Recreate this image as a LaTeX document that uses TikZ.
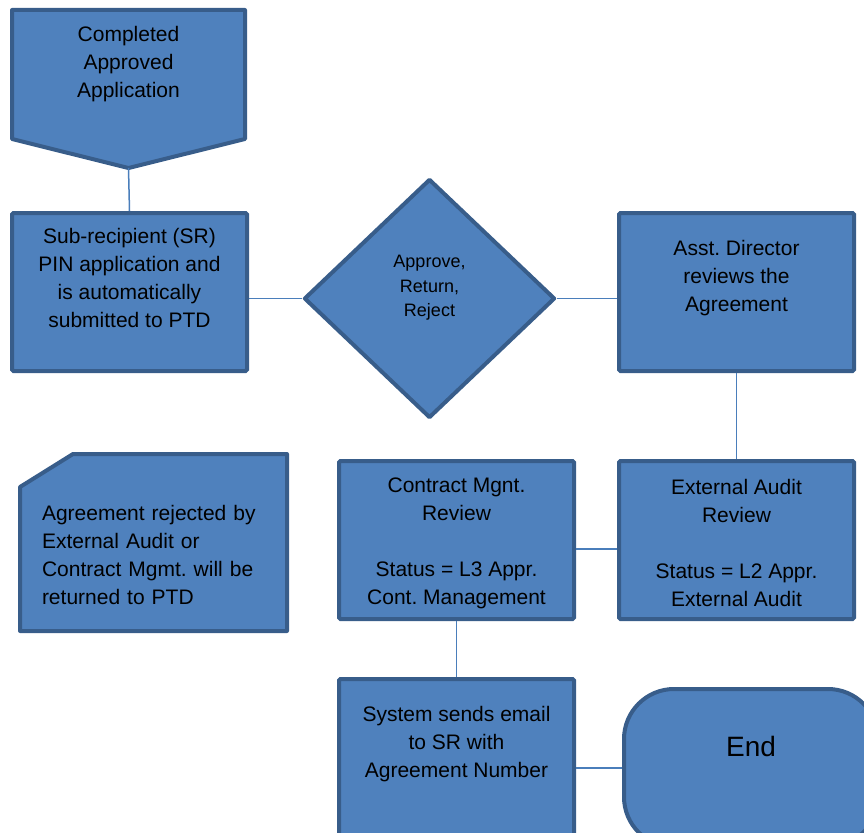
\documentclass[tikz,border=0pt]{standalone}
\usepackage{fontspec}
\setmainfont{Liberation Sans}
\usetikzlibrary{shapes.geometric}
\definecolor{boxfill}{HTML}{4F81BD}
\definecolor{boxline}{HTML}{385D8A}
\definecolor{linkline}{HTML}{4A7EBB}
\frenchspacing

\begin{document}
\begin{tikzpicture}[x=1pt,y=-1pt,font=\fontsize{21}{28}\selectfont,
 box/.style={draw=boxline,fill=boxfill,line width=4pt,rounded corners=1.5pt,align=center,minimum width=235pt,minimum height=158pt,inner sep=0pt},
 decision/.style={diamond,draw=boxline,fill=boxfill,line width=4pt,line join=round,align=center,minimum width=251pt,minimum height=239pt,inner sep=0pt,font=\fontsize{18}{24.5}\selectfont},
 term/.style={draw=boxline,fill=boxfill,line width=4pt,rounded corners=50pt,align=center,minimum width=254pt,minimum height=158pt,inner sep=0pt,font=\fontsize{28}{37}\selectfont},
 shapebox/.style={draw=boxline,fill=boxfill,line width=4pt,line join=round},
 link/.style={draw=linkline,line width=1.5pt}]
\useasboundingbox (0,0) rectangle (864,832);
\clip (0,0) rectangle (864,832);
\fill[white] (0,0) rectangle (864,832);
% start: off-page connector
\draw[shapebox] (12,10) -- (245,10) -- (245,139) -- (128.5,168) -- (12,139) -- cycle;
\coordinate (start-tip) at (128.5,168);
\node[align=center] (start) at (128.5,64) {Completed\\Approved\\Application};
% first row
\node[box] (sr) at (129.5,292) {Sub-recipient (SR)\\PIN application and\\is automatically\\submitted to PTD\\\mbox{}};
\node[decision] (decide) at (429.5,298.5) {Approve,\\Return,\\Reject\\\mbox{}};
\node[box] (asst) at (736.5,292) {Asst. Director\\reviews the\\Agreement\\[4pt]\mbox{}};
% reviews
\node[box] (cm) at (456.5,540) {\rule{0pt}{4pt}\\[-11pt]Contract Mgnt.\\Review\\\mbox{}\\Status = L3 Appr.\\Cont. Management};
\node[box] (ext) at (736.5,540) {\rule{0pt}{4pt}\\[-11pt]External Audit\\Review\\\mbox{}\\Status = L2 Appr.\\External Audit};
% rejected note
\draw[shapebox] (20,487) -- (73,454) -- (287,454) -- (287,631) -- (20,631) -- cycle;
\node[align=left,text width=223pt,inner sep=0pt] (reject) at (153.5,542.5) {\rule{0pt}{13pt}\\Agreement rejected by\\External Audit or\\Contract Mgmt. will be\\returned to PTD};
% last row
\node[box] (sys) at (456.5,758) {System sends email\\to SR with\\Agreement Number\\[4pt]\mbox{}};
\node[term] (end) at (751,768) {End\\[6pt]\mbox{}};
% connectors
\draw[link] (start-tip) -- (sr.north);
\draw[link] (decide.west -| sr.east) -- (decide.west);
\draw[link] (decide.east) -- (decide.east -| asst.west);
\draw[link] (asst.south) -- (ext.north);
\draw[link] ([yshift=-9pt]cm.east) -- ([yshift=-9pt]ext.west);
\draw[link] (cm.south) -- (sys.north);
\draw[link] (end.west -| sys.east) -- (end.west);
\end{tikzpicture}
\end{document}
